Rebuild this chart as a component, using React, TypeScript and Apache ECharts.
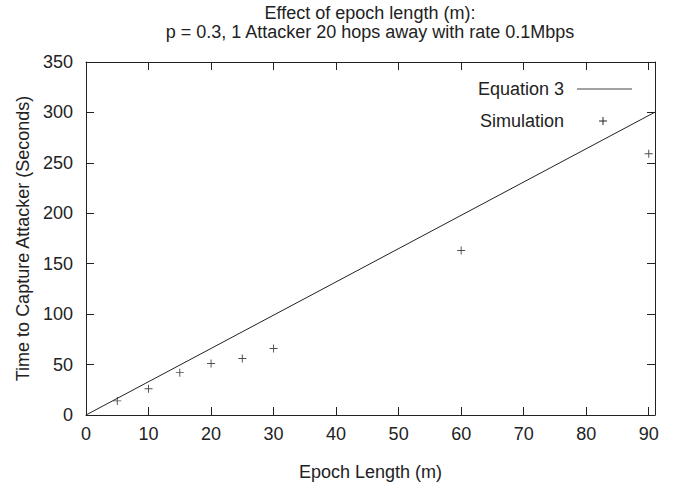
import React, { useEffect, useRef } from "react";
import * as echarts from "echarts";

const titleLines = [
  "Effect of epoch length (m):",
  "p = 0.3, 1 Attacker 20 hops away with rate 0.1Mbps",
];
const xTicks = [0, 10, 20, 30, 40, 50, 60, 70, 80, 90];
const equationX = [0, 91];
const equationY = [0, 300.3];
const simX = [5, 10, 15, 20, 25, 30, 60, 90];
const simY = [14, 26, 42, 51, 56, 66, 163, 259];
const xName = "Epoch Length (m)";
const yName = "Time to Capture Attacker (Seconds)";
const legendNames = ["Equation 3", "Simulation"];

const FONT = "'Liberation Sans', Arial, Helvetica, sans-serif";
const INK = "#222";
const FS = 18;

export default function App() {
  const ref = useRef<HTMLDivElement>(null);
  useEffect(() => {
    if (!ref.current) return;
    const chart = echarts.init(ref.current, null, { renderer: "svg" });
    const plus = "path://M4.4,0H5.6V10H4.4Z M0,4.4H10V5.6H0Z";
    const xCommon = {
      type: "value" as const,
      min: 0,
      max: 91,
      splitLine: { show: false },
      axisLine: { show: true, onZero: false, lineStyle: { color: INK, width: 1 } },
      axisTick: { show: true, inside: true, length: 8, customValues: xTicks, lineStyle: { color: INK } },
    };
    const yCommon = {
      type: "value" as const,
      min: 0,
      max: 350,
      interval: 50,
      splitLine: { show: false },
      axisLine: { show: true, onZero: false, lineStyle: { color: INK, width: 1 } },
      axisTick: { show: true, inside: true, length: 8, lineStyle: { color: INK } },
    };
    const titleStyle = { fontFamily: FONT, fontSize: FS, fontWeight: "normal" as const, color: INK };
    chart.setOption({
      animation: false,
      backgroundColor: "#fff",
      textStyle: { fontFamily: FONT },
      title: [
        { text: titleLines[0], left: 370, top: 4, padding: 0, textAlign: "center", textStyle: titleStyle },
        { text: titleLines[1], left: 370, top: 23, padding: 0, textAlign: "center", textStyle: titleStyle },
      ],
      grid: { left: 86, right: 19, top: 62, bottom: 69, show: false },
      xAxis: [
        {
          ...xCommon,
          position: "bottom",
          name: xName,
          nameLocation: "middle",
          nameGap: 48,
          nameTextStyle: { fontFamily: FONT, fontSize: FS, color: INK },
          axisLabel: { show: true, customValues: xTicks, margin: 10, fontFamily: FONT, fontSize: FS, color: INK },
        },
        {
          ...xCommon,
          position: "top",
          axisLabel: { show: false },
        },
      ],
      yAxis: [
        {
          ...yCommon,
          position: "left",
          name: yName,
          nameLocation: "middle",
          nameGap: 51,
          nameTextStyle: { fontFamily: FONT, fontSize: FS, color: INK },
          axisLabel: { show: true, margin: 13, fontFamily: FONT, fontSize: FS, color: INK },
        },
        {
          ...yCommon,
          position: "right",
          axisLabel: { show: false },
        },
      ],
      series: [
        {
          name: legendNames[0],
          type: "line",
          xAxisIndex: 0,
          yAxisIndex: 0,
          data: equationX.map((x, i) => [x, equationY[i]]),
          showSymbol: false,
          symbol: "none",
          lineStyle: { color: INK, width: 1 },
        },
        {
          name: legendNames[1],
          type: "scatter",
          xAxisIndex: 0,
          yAxisIndex: 0,
          data: simX.map((x, i) => [x, simY[i]]),
          symbol: plus,
          symbolSize: 8,
          itemStyle: { color: INK },
        },
      ],
      graphic: [
        {
          type: "text",
          x: 564,
          y: 89,
          style: { text: legendNames[0], fontFamily: FONT, fontSize: FS, fill: INK, align: "right", verticalAlign: "middle" },
        },
        {
          type: "line",
          shape: { x1: 577, y1: 89, x2: 632, y2: 89 },
          style: { stroke: "#444", lineWidth: 1 },
        },
        {
          type: "text",
          x: 564,
          y: 121,
          style: { text: legendNames[1], fontFamily: FONT, fontSize: FS, fill: INK, align: "right", verticalAlign: "middle" },
        },
        {
          type: "line",
          shape: { x1: 599, y1: 121, x2: 607, y2: 121 },
          style: { stroke: INK, lineWidth: 1 },
        },
        {
          type: "line",
          shape: { x1: 603, y1: 117, x2: 603, y2: 125 },
          style: { stroke: INK, lineWidth: 1 },
        },
      ],
    });
    return () => chart.dispose();
  }, []);
  return (
    <div
      ref={ref}
      style={{ position: "absolute", left: 0, top: 0, width: 674, height: 486, background: "#fff" }}
    />
  );
}
